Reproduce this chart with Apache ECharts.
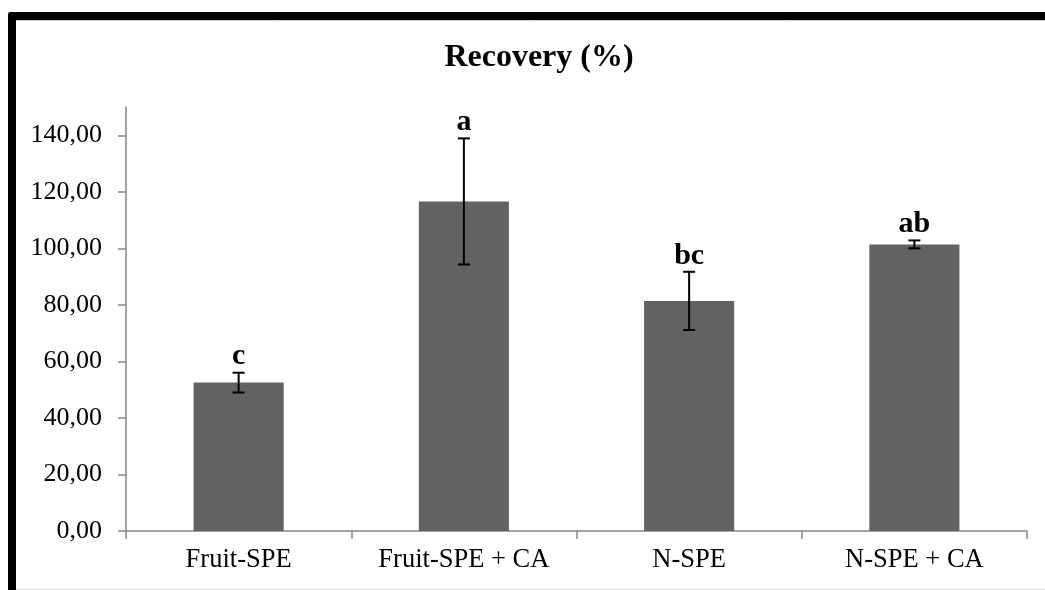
<!DOCTYPE html>
<html>
<head>
<meta charset="utf-8">
<script src="https://cdn.jsdelivr.net/npm/echarts@6/dist/echarts.min.js"></script>
<style>html,body{margin:0;padding:0;background:#fff;}#c{width:1045px;height:590px;}</style>
</head>
<body>
<div id="c"></div>
<script>
var categories = ['Fruit-SPE', 'Fruit-SPE + CA', 'N-SPE', 'N-SPE + CA'];
var values = [52.5, 116.6, 81.4, 101.4];
var errors = [3.5, 22.3, 10.3, 1.4];
var letters = ['c', 'a', 'bc', 'ab'];
var yTicks = [0, 20, 40, 60, 80, 100, 120, 140];

var FONT = '"Liberation Serif", "Times New Roman", serif';
var chart = echarts.init(document.getElementById('c'), null, {renderer: 'canvas'});

var errData = categories.map(function (c, i) { return [i, values[i] - errors[i], values[i] + errors[i], values[i]]; });
var letterData = categories.map(function (c, i) { return [i, values[i] + errors[i]]; });

chart.setOption({
  animation: false,
  backgroundColor: '#ffffff',
  title: {
    text: 'Recovery (%)',
    left: 534,
    textAlign: 'center',
    top: 37,
    textStyle: {fontFamily: FONT, fontSize: 32, fontWeight: 'bold', color: '#000'}
  },
  graphic: [
    {type: 'rect', shape: {x: 8, y: 12, width: 1100, height: 8, r: [3, 0, 0, 0]}, style: {fill: '#000'}, z: 100},
    {type: 'rect', shape: {x: 8, y: 12, width: 8, height: 600, r: [3, 0, 0, 0]}, style: {fill: '#000'}, z: 100},
    {type: 'line', shape: {x1: 16, y1: 20.5, x2: 1045, y2: 20.5}, style: {stroke: '#d0d0d0', lineWidth: 1}, z: 100},
    {type: 'line', shape: {x1: 16, y1: 589.5, x2: 1045, y2: 589.5}, style: {stroke: '#d8d8d8', lineWidth: 1}, z: 100}
  ],
  grid: {left: 126, right: 18, top: 107, bottom: 59, containLabel: false},
  xAxis: {
    type: 'category',
    data: categories,
    boundaryGap: true,
    axisLine: {lineStyle: {color: '#868686', width: 1.5}},
    axisTick: {show: true, alignWithLabel: false, length: 8, lineStyle: {color: '#868686', width: 1.5}},
    axisLabel: {fontFamily: FONT, fontSize: 26.5, color: '#000', margin: 16}
  },
  yAxis: {
    type: 'value',
    min: 0,
    max: 150,
    interval: 10,
    splitLine: {show: false},
    axisLine: {show: true, lineStyle: {color: '#868686', width: 1.5}},
    axisTick: {show: true, length: 8, customValues: yTicks, lineStyle: {color: '#868686', width: 1.5}},
    axisLabel: {
      fontFamily: FONT, fontSize: 26, color: '#000', margin: 24,
      customValues: yTicks,
      formatter: function (v) { return v.toFixed(2).replace('.', ','); }
    }
  },
  series: [
    {
      type: 'bar',
      data: values,
      barWidth: '40%',
      itemStyle: {color: '#626262'},
      z: 2
    },
    {
      type: 'custom',
      data: errData,
      z: 5,
      renderItem: function (params, api) {
        var x = api.value(0);
        var lo = api.coord([x, api.value(1)]);
        var hi = api.coord([x, api.value(2)]);
        var hw = 6;
        var st = {stroke: '#000', lineWidth: 2};
        return {
          type: 'group',
          children: [
            {type: 'line', shape: {x1: lo[0], y1: lo[1], x2: hi[0], y2: hi[1]}, style: st},
            {type: 'line', shape: {x1: lo[0] - hw, y1: lo[1], x2: lo[0] + hw, y2: lo[1]}, style: st},
            {type: 'line', shape: {x1: hi[0] - hw, y1: hi[1], x2: hi[0] + hw, y2: hi[1]}, style: st}
          ]
        };
      }
    },
    {
      type: 'custom',
      data: letterData,
      z: 6,
      renderItem: function (params, api) {
        var p = api.coord([api.value(0), api.value(1)]);
        return {
          type: 'text',
          style: {
            x: p[0], y: p[1] - 1,
            text: letters[params.dataIndex],
            align: 'center', verticalAlign: 'bottom',
            font: 'bold 30px ' + FONT,
            fill: '#000'
          }
        };
      }
    }
  ]
});
</script>
</body>
</html>
